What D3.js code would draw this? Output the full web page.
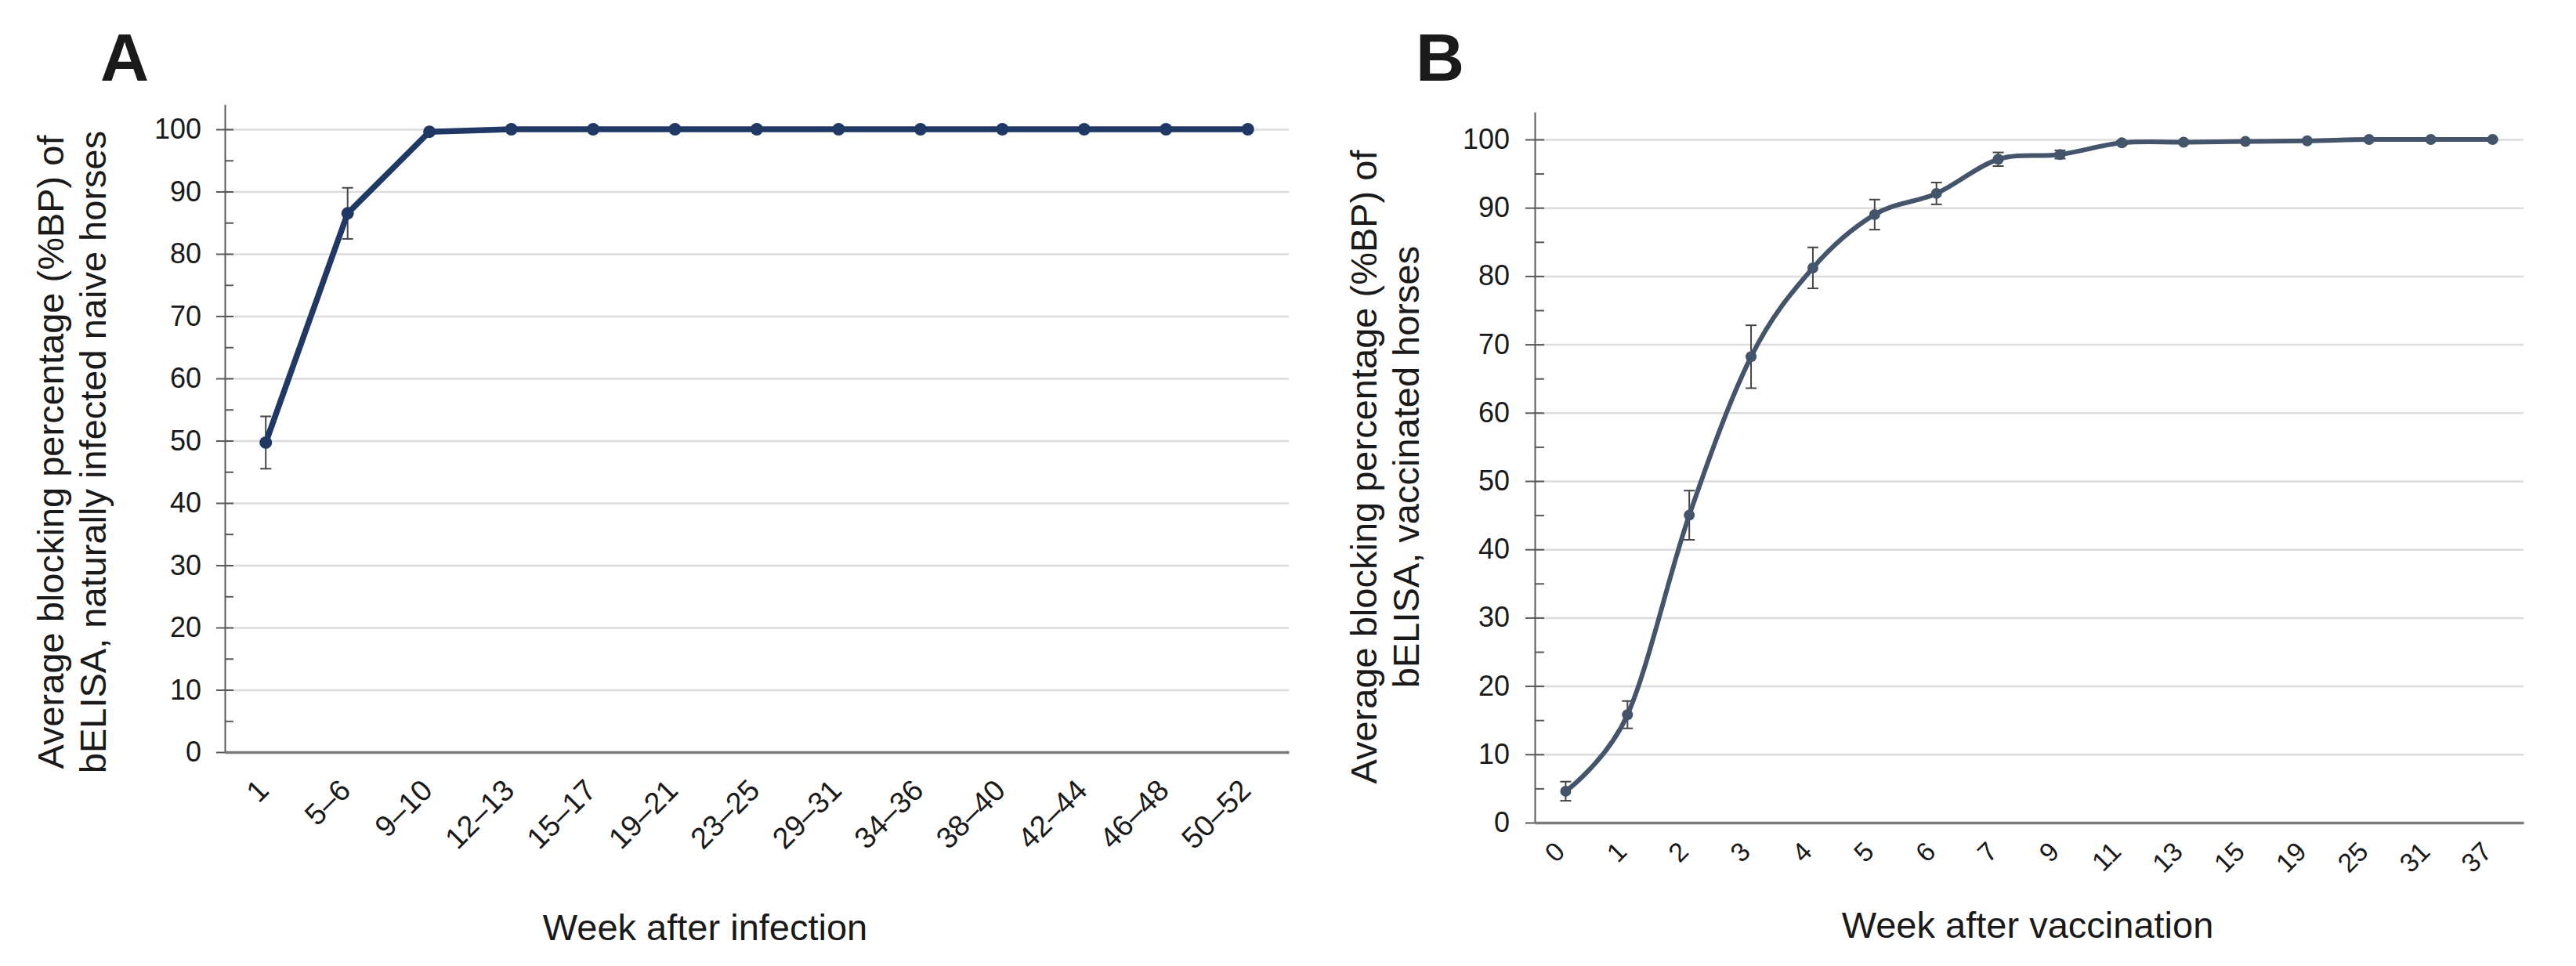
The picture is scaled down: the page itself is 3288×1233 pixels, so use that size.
<!DOCTYPE html>
<html>
<head>
<meta charset="utf-8">
<script src="https://cdn.jsdelivr.net/npm/d3@7"></script>
<style>
body { margin: 0; background: #fff; }
text { font-family: "Liberation Sans", Arial, sans-serif; fill: #1a1a1a; }
</style>
</head>
<body>
<svg id="svg" width="3288" height="1233"></svg>
<script>
// panel A - naturally infected horses
var weeksA = ["1", "5–6", "9–10", "12–13", "15–17", "19–21", "23–25", "29–31", "34–36", "38–40", "42–44", "46–48", "50–52"];
var meanA = [49.7, 86.5, 99.6, 100, 100, 100, 100, 100, 100, 100, 100, 100, 100];
var errA = [4.2, 4.1, 0.3, 0.1, 0.1, 0.1, 0.1, 0.1, 0.1, 0.1, 0.1, 0.1, 0.1];

// panel B - vaccinated horses
var weeksB = ["0", "1", "2", "3", "4", "5", "6", "7", "9", "11", "13", "15", "19", "25", "31", "37"];
var meanB = [4.6, 15.8, 45.0, 68.2, 81.2, 89.0, 92.1, 97.1, 97.8, 99.5, 99.6, 99.7, 99.8, 100, 100, 100];
var errB = [1.4, 2.0, 3.6, 4.6, 3.0, 2.2, 1.6, 1.0, 0.6, 0.3, 0.2, 0.2, 0.1, 0.1, 0.1, 0.1];

var yMajor = [0, 10, 20, 30, 40, 50, 60, 70, 80, 90, 100];
var yMinor = [5, 15, 25, 35, 45, 55, 65, 75, 85, 95];

var svg = d3.select("#svg");

function panel(o) {
    var g = svg.append("g");
    var x = d3.scaleBand().domain(o.cats).range([o.left, o.right]).padding(0);
    var y = d3.scaleLinear().domain([0, 104]).range([o.bottom, o.bottom - 104 * o.unit]);
    var cx = function(d, i) { return x(o.cats[i]) + x.bandwidth() / 2; };

    // gridlines
    g.append("g")
        .attr("transform", "translate(" + o.left + ",0)")
        .call(d3.axisLeft(y).tickValues(yMajor.slice(1)).tickSize(-(o.right - o.left)).tickFormat(""))
        .call(function(s) { s.select(".domain").remove(); })
        .selectAll("line").attr("stroke", "#dcdcdc").attr("stroke-width", 2.5);

    // y axis, ticks crossing the line
    g.append("g")
        .attr("transform", "translate(" + o.left + ",0)")
        .call(d3.axisLeft(y).tickValues(yMajor.concat(yMinor)).tickSize(-o.tin).tickSizeOuter(0).tickFormat(""))
        .call(function(s) { s.select(".domain").remove(); })
        .selectAll("line").attr("stroke", "#595959").attr("stroke-width", 2);

    var ya = g.append("g")
        .attr("transform", "translate(" + o.left + ",0)")
        .call(d3.axisLeft(y).tickValues(yMajor).tickSize(o.tout).tickSizeOuter(0).tickPadding(o.pad));
    ya.select(".domain").attr("stroke", "#595959").attr("stroke-width", 2);
    ya.selectAll("line").attr("stroke", "#595959").attr("stroke-width", 2);
    ya.selectAll("text").attr("font-size", o.tickFont + "px").attr("fill", "#1a1a1a");

    // x axis
    var xa = g.append("g")
        .attr("transform", "translate(0," + o.bottom + ")")
        .call(d3.axisBottom(x).tickSize(0).tickSizeOuter(0));
    xa.select(".domain").attr("stroke", "#7a7a7a").attr("stroke-width", 3.5);
    xa.selectAll("text")
        .attr("font-size", o.xFont + "px")
        .attr("fill", "#1a1a1a")
        .attr("x", 0).attr("y", 0).attr("dy", 0)
        .attr("text-anchor", "end")
        .attr("transform", "translate(" + o.lx + "," + o.ly + ") rotate(-45)");

    // error bars
    var eb = g.append("g").attr("stroke", "#454545").attr("stroke-width", 2);
    eb.selectAll(".v").data(o.mean).enter().append("line")
        .attr("x1", cx).attr("x2", cx)
        .attr("y1", function(d, i) { return y(d + o.err[i]); })
        .attr("y2", function(d, i) { return y(d - o.err[i]); });
    eb.selectAll(".t").data(o.mean).enter().append("line")
        .attr("x1", function(d, i) { return cx(d, i) - 7; })
        .attr("x2", function(d, i) { return cx(d, i) + 7; })
        .attr("y1", function(d, i) { return y(d + o.err[i]); })
        .attr("y2", function(d, i) { return y(d + o.err[i]); });
    eb.selectAll(".b").data(o.mean).enter().append("line")
        .attr("x1", function(d, i) { return cx(d, i) - 7; })
        .attr("x2", function(d, i) { return cx(d, i) + 7; })
        .attr("y1", function(d, i) { return y(d - o.err[i]); })
        .attr("y2", function(d, i) { return y(d - o.err[i]); });

    // line + markers
    var line = d3.line().x(cx).y(function(d) { return y(d); }).curve(o.curve);
    g.append("path").datum(o.mean)
        .attr("d", line)
        .attr("fill", "none")
        .attr("stroke", o.color)
        .attr("stroke-width", o.lw)
        .attr("stroke-linejoin", "round");
    g.selectAll("circle").data(o.mean).enter().append("circle")
        .attr("cx", cx)
        .attr("cy", function(d) { return y(d); })
        .attr("r", o.r)
        .attr("fill", o.color);

    // axis titles
    var yt = g.append("text")
        .attr("transform", "translate(" + o.ytx + "," + o.yty + ") rotate(-90)")
        .attr("text-anchor", "middle")
        .attr("font-size", "47px");
    yt.append("tspan").attr("x", 0).attr("y", 0).text(o.ytitle[0]);
    yt.append("tspan").attr("x", 0).attr("y", 54).text(o.ytitle[1]);

    g.append("text")
        .attr("x", o.xtx).attr("y", o.xty)
        .attr("text-anchor", "middle")
        .attr("font-size", "47px")
        .text(o.xtitle);

    g.append("text")
        .attr("x", o.tagx).attr("y", 103)
        .attr("font-size", "86px")
        .attr("font-weight", "bold")
        .attr("fill", "#000")
        .text(o.tag);
}

panel({
    cats: weeksA, mean: meanA, err: errA,
    left: 287, right: 1645, bottom: 960, unit: 7.95,
    tin: 11, tout: 11, pad: 19, tickFont: 36, xFont: 38,
    lx: 6, ly: 51,
    color: "#1f3864", lw: 7.5, r: 8, curve: d3.curveLinear,
    ytitle: ["Average blocking percentage (%BP) of", "bELISA, naturally infected naive horses"],
    ytx: 81, yty: 577,
    xtitle: "Week after infection", xtx: 900, xty: 1200,
    tag: "A", tagx: 128
});

panel({
    cats: weeksB, mean: meanB, err: errB,
    left: 1959, right: 3221, bottom: 1050, unit: 8.72,
    tin: 12, tout: 12, pad: 20, tickFont: 36, xFont: 34,
    lx: 1, ly: 39,
    color: "#44546a", lw: 6, r: 7, curve: d3.curveCatmullRom.alpha(0),
    ytitle: ["Average blocking percentage (%BP) of", "bELISA, vaccinated horses"],
    ytx: 1757, yty: 596,
    xtitle: "Week after vaccination", xtx: 2588, xty: 1197,
    tag: "B", tagx: 1807
});
</script>
</body>
</html>
